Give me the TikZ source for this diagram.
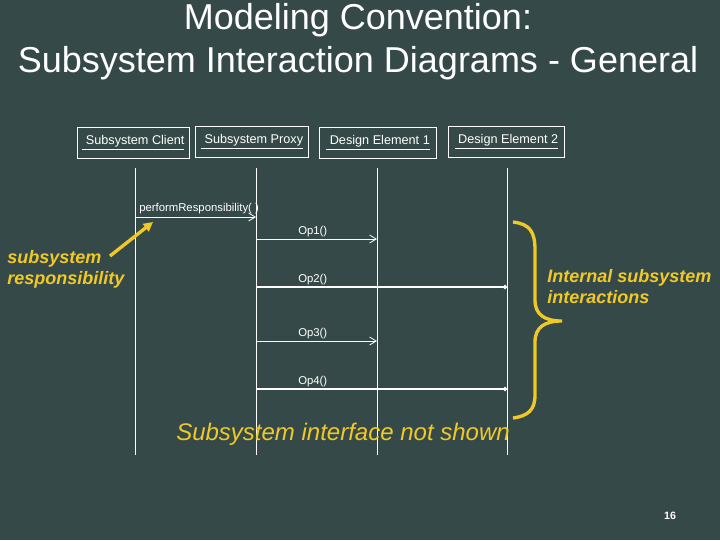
\documentclass[tikz,border=0pt]{standalone}
\usepackage{fontspec}
\setmainfont{Liberation Sans}
\usetikzlibrary{arrows.meta}
\definecolor{bg}{HTML}{354A48}
\definecolor{yel}{HTML}{F0C828}
\begin{document}
\begin{tikzpicture}[x=0.75pt,y=-0.75pt,
  obj/.style={draw=white,line width=0.6pt,text=white,font=\fontsize{9.5}{10}\selectfont,inner sep=1pt,anchor=north west,minimum height=23pt},
  life/.style={white,line width=0.6pt},
  msg/.style={white,line width=0.6pt,-{Straight Barb[length=5pt,width=6pt]}},
  msgd/.style={white,line width=1.2pt,-{Circle[length=3pt]}},
  lab/.style={text=white,font=\fontsize{8.5}{9}\selectfont,anchor=base west,inner sep=0pt},
  note/.style={text=yel,font=\bfseries\itshape\fontsize{13.5}{16}\selectfont,align=left,anchor=north west,inner sep=0pt}]
\fill[bg] (0,0) rectangle (720,540);
\useasboundingbox (0,0) rectangle (720,540);
\node[text=white,font=\fontsize{27}{32}\selectfont,align=center] (title) at (358,42) {Modeling Convention:\\Subsystem Interaction Diagrams - General};
\node[obj,minimum width=84pt] (c) at (77,127) {\underline{ Subsystem Client}};
\node[obj,minimum width=85pt] (p) at (195,126) {\underline{ Subsystem Proxy}};
\node[obj,minimum width=88pt] (d1) at (319,127) {\underline{ Design Element 1}};
\node[obj,minimum width=87pt] (d2) at (448,126) {\underline{ Design Element 2}};
\coordinate (c0) at (135,168); \coordinate (c1) at (135,455);
\coordinate (p0) at (256,168); \coordinate (p1) at (256,455);
\coordinate (e0) at (377,168); \coordinate (e1) at (377,455);
\coordinate (f0) at (507,168); \coordinate (f1) at (507,455);
\draw[life] (c0)--(c1); \draw[life] (p0)--(p1); \draw[life] (e0)--(e1); \draw[life] (f0)--(f1);
\coordinate (m1a) at (135,217); \coordinate (m1b) at (256,217);
\draw[msg] (m1a)--(m1b);
\node[lab] (l1) at (139,211) {performResponsibility( )};
\coordinate (m2a) at (256,239); \coordinate (m2b) at (377,239);
\draw[msg] (m2a)--(m2b);
\node[lab] (l2) at (298,234) {Op1()};
\coordinate (m3a) at (256,287); \coordinate (m3b) at (507,287);
\draw[msgd] (m3a)--(m3b);
\node[lab] (l3) at (298,282) {Op2()};
\coordinate (m4a) at (256,341); \coordinate (m4b) at (377,341);
\draw[msg] (m4a)--(m4b);
\node[lab] (l4) at (298,336) {Op3()};
\coordinate (m5a) at (256,389); \coordinate (m5b) at (507,389);
\draw[msgd] (m5a)--(m5b);
\node[lab] (l5) at (298,384) {Op4()};
\node[note] (resp) at (7,250) {subsystem\\responsibility};
\coordinate (ra) at (110,256); \coordinate (rb) at (153,222);
\draw[yel,line width=2.5pt,-{Triangle[length=7pt,width=7pt]}] (ra)--(rb);
\draw[yel,line width=2.5pt] (513,222) .. controls (530,224) and (535,232) .. (535,250) -- (535,300) .. controls (535,315) and (545,321) .. (562,321) .. controls (545,321) and (535,327) .. (535,342) -- (535,395) .. controls (535,410) and (528,416) .. (513,418);
\node[note] (internal) at (547,269) {Internal subsystem\\interactions};
\node[text=yel,font=\itshape\fontsize{18}{20}\selectfont,anchor=north west,inner sep=0pt] (iface) at (176,423) {Subsystem interface not shown};
\node[text=white,font=\bfseries\fontsize{8}{9}\selectfont] (pg) at (670,516) {16};
\end{tikzpicture}
\end{document}
